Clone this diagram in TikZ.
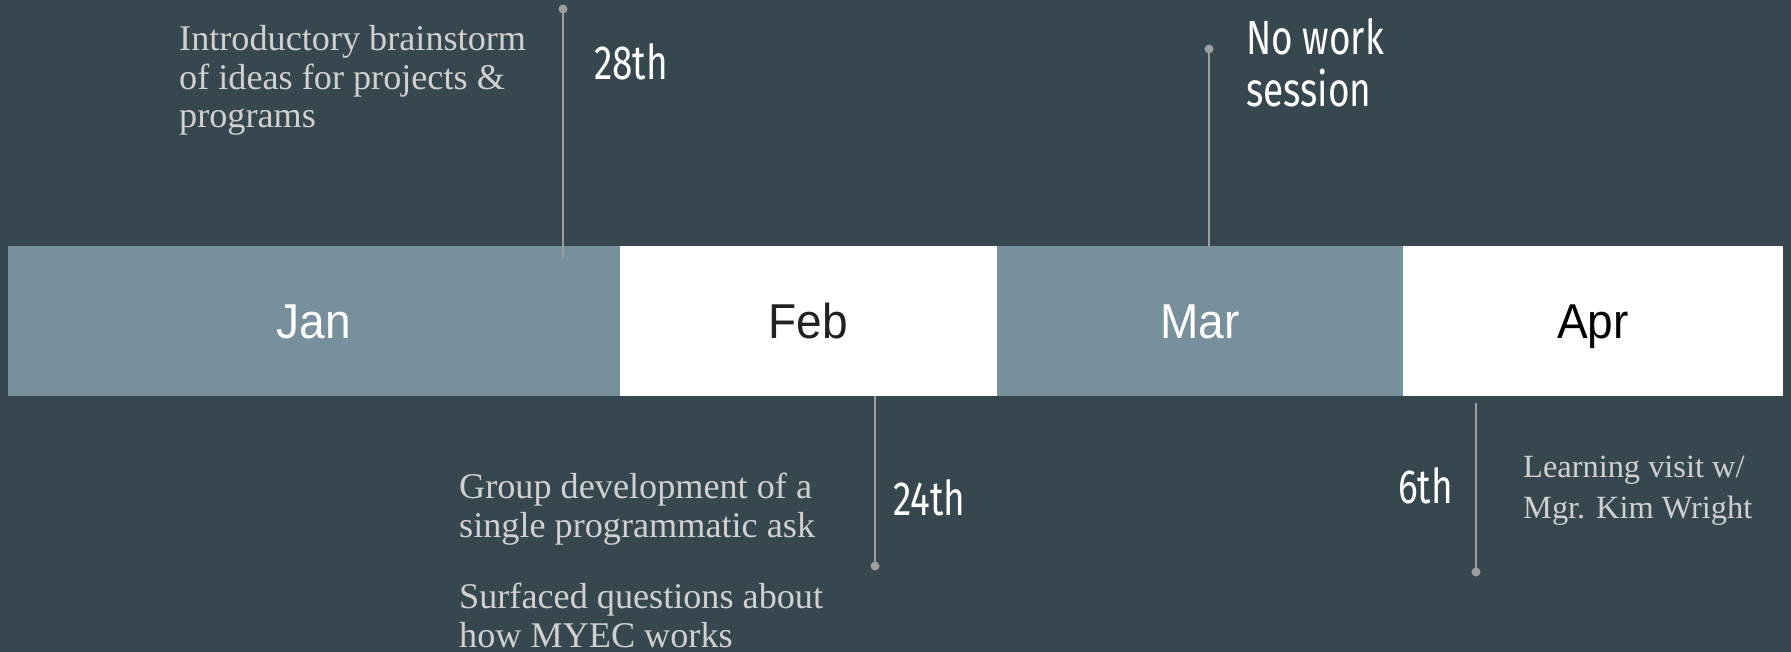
\documentclass[tikz,border=0pt]{standalone}
\usepackage{fontspec}
\setmainfont{Liberation Serif}
\newfontfamily\datefont[FakeStretch=0.77]{Fira Sans}
\newfontfamily\monthfont[FakeStretch=0.94]{Liberation Sans}
\definecolor{bg}{HTML}{37474F}
\definecolor{barblue}{HTML}{78909C}
\definecolor{conn}{HTML}{9E9E9E}
\definecolor{note}{HTML}{D0D0D0}
\definecolor{darktext}{HTML}{212121}
\begin{document}
\begin{tikzpicture}[x=1pt,y=-1pt,
  cell/.style={minimum height=150pt, inner sep=0pt, outer sep=0pt, anchor=north west,
    text height=34pt, text depth=0pt,
    font=\monthfont\fontsize{49}{49}\selectfont},
  dotnode/.style={circle, fill=conn, inner sep=0pt, minimum size=9pt},
  connline/.style={draw=conn, line width=2pt},
  datelabel/.style={anchor=base west, inner sep=0pt, text=white, align=left,
    font=\datefont\fontsize{48}{52}\selectfont},
  notetext/.style={anchor=base west, inner sep=0pt, text=note, align=left,
    font=\fontsize{36.2}{38.5}\selectfont},
  smallnote/.style={anchor=base west, inner sep=0pt, text=note, align=left,
    font=\fontsize{32.4}{41}\selectfont}]
\useasboundingbox (0,0) rectangle (1791,652);
\fill[bg] (0,0) rectangle (1791,652);
% month bar
\node[cell, fill=barblue, text=white, minimum width=612pt] (jan) at (8,246) {Jan};
\node[cell, fill=white, text=darktext, minimum width=377pt] (feb) at (620,246) {Feb};
\node[cell, fill=barblue, text=white, minimum width=406pt] (mar) at (997,246) {Mar};
\node[cell, fill=white, text=black, minimum width=380pt] (apr) at (1403,246) {Apr};
% dots and connectors
\node[dotnode] (d1) at (563,9) {};
\coordinate (e1) at (563,257);
\draw[connline] (d1.center) -- (e1);
\node[dotnode] (d2) at (875,566) {};
\draw[connline] (d2.center) -- (d2 |- feb.south);
\node[dotnode] (d3) at (1209,49) {};
\draw[connline] (d3.center) -- (d3 |- mar.north);
\node[dotnode] (d4) at (1476,572) {};
\coordinate (e4) at (1476,403);
\draw[connline] (d4.center) -- (e4);
% texts (base anchor = baseline of last line)
\node[notetext] (intro) at (179,128) {Introductory brainstorm\\of ideas for projects \&\\programs};
\node[datelabel] (t28) at (594,80) {28th};
\node[datelabel] (nowork) at (1246,107) {No work\\session};
\node[notetext] (group) at (459,537) {Group development of a\\single programmatic ask};
\node[notetext] (surf) at (459,647) {Surfaced questions about\\how MYEC works};
\node[datelabel] (t24) at (893,515) {24th};
\node[datelabel] (t6) at (1398,503) {6th};
\node[smallnote] (visit) at (1523,518) {Learning visit w/\\Mgr. Kim Wright};
\end{tikzpicture}
\end{document}
